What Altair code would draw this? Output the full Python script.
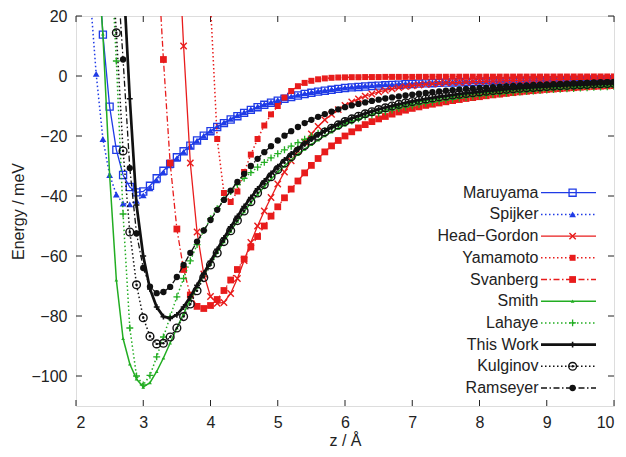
import altair as alt
import numpy as np
import pandas as pd

# ---------------- data ----------------
series_names = ["Maruyama", "Spijker", "Head\u2212Gordon", "Yamamoto", "Svanberg",
                "Smith", "Lahaye", "This Work", "Kulginov", "Ramseyer"]
z_first = [2.3, 2.2, 3.5, 4.0, 3.2, 2.3, 2.5, 2.7, 2.5, 2.6]
z_step = 0.1

maruyama = [50, 13.8, -10.2, -24.6, -33.0, -37.0, -38.8, -38.5, -36.6, -34.1,
            -31.6, -29.3, -27.1, -25.1, -23.2, -21.5, -19.9, -18.4, -17.0, -15.7,
            -14.5, -13.4, -12.3, -11.3, -10.4, -9.6, -8.9, -8.2, -7.6, -7.0,
            -6.5, -6.0, -5.6, -5.2, -4.9, -4.6, -4.3, -4.0, -3.8, -3.65,
            -3.5, -3.35, -3.2, -3.1, -3.0, -2.9, -2.75, -2.65, -2.55, -2.45,
            -2.4, -2.3, -2.2, -2.15, -2.1, -2.0, -1.95, -1.9, -1.85, -1.8,
            -1.75, -1.7, -1.65, -1.6, -1.55, -1.5, -1.5, -1.45, -1.4, -1.4,
            -1.35, -1.3, -1.3, -1.25, -1.2, -1.2, -1.15, -1.15]
spijker = [30, 0.7, -21.0, -33.0, -39.5, -42.5, -42.8, -41.6, -39.8, -37.4,
           -34.8, -32.2, -29.8, -27.5, -25.3, -23.4, -21.6, -19.9, -18.3, -16.8,
           -15.5, -14.3, -13.1, -12.1, -11.1, -10.2, -9.4, -8.7, -8.0, -7.4,
           -6.8, -6.3, -5.8, -5.4, -5.0, -4.7, -4.4, -4.1, -3.85, -3.6,
           -3.4, -3.25, -3.1, -2.95, -2.8, -2.7, -2.6, -2.5, -2.4, -2.3,
           -2.2, -2.15, -2.1, -2.0, -1.95, -1.9, -1.85, -1.8, -1.75, -1.7,
           -1.65, -1.6, -1.55, -1.5, -1.5, -1.45, -1.4, -1.4, -1.35, -1.3,
           -1.3, -1.25, -1.2, -1.2, -1.15, -1.15, -1.1, -1.1, -1.05]
head_gordon = [55, 10, -29, -52, -66, -73.5, -75.8, -75.5, -72.5, -67.5,
               -61.5, -55.5, -50, -45, -40.5, -36, -32, -28.3, -25, -22,
               -19.3, -16.8, -14.6, -12.8, -11.2, -9.8, -8.6, -7.6, -6.7, -6.0,
               -5.3, -4.8, -4.3, -3.9, -3.55, -3.25, -3.0, -2.8, -2.6, -2.45,
               -2.3, -2.2, -2.1, -2.0, -1.9, -1.8, -1.75, -1.7, -1.6, -1.55,
               -1.5, -1.45, -1.4, -1.35, -1.3, -1.28, -1.25, -1.2, -1.18, -1.15,
               -1.1, -1.08, -1.05, -1.02, -1.0, -0.98]
yamamoto = [24, -21, -39, -42, -38.5, -32, -26.2, -21, -16.5, -12.8,
            -10, -7.2, -5.0, -3.4, -2.3, -1.6, -1.1, -0.8, -0.6, -0.5,
            -0.45, -0.4, -0.4, -0.35, -0.35, -0.35, -0.3, -0.3, -0.3, -0.3,
            -0.3, -0.28, -0.28, -0.26, -0.26, -0.25, -0.25, -0.24, -0.24, -0.23,
            -0.23, -0.22, -0.22, -0.21, -0.21, -0.2, -0.2, -0.2, -0.19, -0.19,
            -0.19, -0.18, -0.18, -0.18, -0.17, -0.17, -0.17, -0.16, -0.16, -0.16, -0.15]
svanberg = [45, 5.5, -29, -51, -64.5, -73, -76.8, -77.5, -76.5, -74.5,
            -71.5, -68, -64.5, -61, -57, -53.5, -50, -46.7, -43.6, -40.6,
            -37.7, -35, -32.3, -29.8, -27.5, -25.3, -23.3, -21.5, -20.0, -18.6,
            -17.3, -16.2, -15.2, -14.3, -13.5, -12.7, -12.0, -11.4, -10.8, -10.3,
            -9.8, -9.4, -9.0, -8.6, -8.2, -7.85, -7.5, -7.2, -6.9, -6.6,
            -6.3, -6.05, -5.8, -5.55, -5.3, -5.1, -4.9, -4.7, -4.5, -4.35,
            -4.2, -4.05, -3.9, -3.75, -3.6, -3.5, -3.4, -3.3, -3.2]
smith = [45, 14, -33, -68, -87.5, -96, -101, -103.7, -102.2, -98.5,
         -94, -89, -84, -79.2, -74.6, -70.4, -66.4, -62.6, -58.8, -55.2,
         -51.7, -48.4, -45.2, -42.3, -39.5, -36.9, -34.4, -32.1, -30.0, -28.0,
         -26.1, -24.4, -22.8, -21.3, -19.9, -18.6, -17.4, -16.3, -15.3, -14.4,
         -13.5, -12.7, -12.0, -11.3, -10.7, -10.1, -9.6, -9.1, -8.6, -8.2,
         -7.8, -7.45, -7.1, -6.8, -6.5, -6.25, -6.0, -5.75, -5.5, -5.3,
         -5.1, -4.9, -4.7, -4.55, -4.4, -4.25, -4.1, -3.95, -3.8, -3.7,
         -3.6, -3.5, -3.4, -3.3, -3.2, -3.12, -3.05, -3.0]
lahaye = [50, 5, -46, -84, -100, -103, -99.8, -93.6, -87, -80.2,
          -73.6, -67.5, -61.6, -56.2, -51.5, -47.6, -44.2, -41.2, -38.5, -36.2,
          -34.1, -32.2, -30.4, -28.8, -27.3, -25.9, -24.6, -23.4, -22.2, -21.1,
          -20.1, -19.1, -18.2, -17.3, -16.5, -15.7, -15.0, -14.3, -13.6, -13.0,
          -12.4, -11.9, -11.35, -10.85, -10.4, -9.95, -9.5, -9.1, -8.75, -8.4,
          -8.05, -7.75, -7.45, -7.15, -6.9, -6.65, -6.4, -6.15, -5.95, -5.75,
          -5.55, -5.35, -5.2, -5.0, -4.85, -4.7, -4.55, -4.4, -4.3, -4.15,
          -4.05, -3.9, -3.8, -3.7, -3.6, -3.5]
this_work = [35, -7.6, -43, -60, -71, -77, -80.2, -80.8, -79.6, -77,
             -73.6, -69.8, -65.8, -61.8, -57.8, -54, -50.3, -46.8, -43.5, -40.5,
             -37.6, -35, -32.5, -30.2, -28, -26, -24.2, -22.5, -21, -19.6,
             -18.3, -17.1, -16, -15, -14.1, -13.3, -12.5, -11.8, -11.1, -10.5,
             -9.95, -9.4, -8.9, -8.45, -8.0, -7.6, -7.25, -6.9, -6.6, -6.3,
             -6.0, -5.75, -5.5, -5.25, -5.0, -4.8, -4.6, -4.4, -4.2, -4.05,
             -3.9, -3.75, -3.6, -3.45, -3.32, -3.2, -3.08, -2.97, -2.86, -2.76,
             -2.66, -2.57, -2.48, -2.4]
kulginov = [50, 14.4, -25, -52, -69.6, -80.6, -86.8, -89.3, -89.1, -87,
            -84, -80.2, -76, -71.6, -67.2, -63, -59, -55.2, -51.6, -48.2,
            -45, -41.9, -39, -36.2, -33.6, -31.2, -29, -26.9, -25, -23.2,
            -21.6, -20.1, -18.7, -17.4, -16.3, -15.2, -14.3, -13.4, -12.6, -11.9,
            -11.2, -10.6, -10.0, -9.45, -8.95, -8.5, -8.05, -7.65, -7.3, -6.95,
            -6.65, -6.35, -6.05, -5.8, -5.55, -5.3, -5.05, -4.85, -4.65, -4.45,
            -4.25, -4.1, -3.95, -3.8, -3.65, -3.5, -3.37, -3.25, -3.13, -3.02,
            -2.9, -2.8, -2.7, -2.6, -2.5, -2.42]
ramseyer = [40, 5.5, -30.7, -52.5, -64, -70.2, -72.4, -72, -70.3, -67,
            -63, -59, -55.2, -51.5, -48, -44.6, -41.3, -38.2, -35.3, -32.6,
            -30, -27.6, -25.4, -23.4, -21.5, -19.9, -18.4, -17.0, -15.7, -14.6,
            -13.6, -12.7, -11.9, -11.1, -10.4, -9.8, -9.3, -8.8, -8.3, -7.9,
            -7.5, -7.15, -6.8, -6.5, -6.2, -5.9, -5.65, -5.4, -5.15, -4.9,
            -4.7, -4.5, -4.3, -4.15, -4.0, -3.85, -3.7, -3.55, -3.4, -3.3,
            -3.2, -3.1, -3.0, -2.9, -2.8, -2.7, -2.62, -2.54, -2.46, -2.38,
            -2.3, -2.23, -2.16, -2.1, -2.04]

energies = [maruyama, spijker, head_gordon, yamamoto, svanberg,
            smith, lahaye, this_work, kulginov, ramseyer]

x_ticks = [2, 3, 4, 5, 6, 7, 8, 9, 10]
y_ticks = [20, 0, -20, -40, -60, -80, -100]

# ---------------- styling ----------------
FONT = "Liberation Sans"
TXT = "#222222"
FRAME = "#222222"
BLUE = "#1f3be6"
RED = "#e81c1c"
GREEN = "#22ad22"
BLACK = "#111111"
DOT = [1.5, 2.5]
DASHDOT = [6, 2.5, 1.5, 2.5]
PLUS = "M-1,0L1,0M0,-1L0,1"
CROSS = "M-1,-1L1,1M-1,1L1,-1"

styles = [
    dict(color=BLUE, dash=None, lw=1.3, shape="square", filled=False, size=50, mw=1.3),
    dict(color=BLUE, dash=DOT, lw=1.5, shape="triangle-up", filled=True, size=46, mw=1),
    dict(color=RED, dash=None, lw=1.3, shape=CROSS, filled=False, size=40, mw=1.4),
    dict(color=RED, dash=DOT, lw=1.5, shape="square", filled=True, size=36, mw=1),
    dict(color=RED, dash=DASHDOT, lw=1.3, shape="square", filled=True, size=46, mw=1),
    dict(color=GREEN, dash=None, lw=1.5, shape="triangle-up", filled=True, size=14, mw=1),
    dict(color=GREEN, dash=DOT, lw=1.5, shape=PLUS, filled=False, size=48, mw=1.3),
    dict(color=BLACK, dash=None, lw=2.7, shape=PLUS, filled=False, size=34, mw=1.6),
    dict(color=BLACK, dash=DOT, lw=1.5, shape="circle", filled=False, size=60, mw=1.4),
    dict(color=BLACK, dash=DASHDOT, lw=1.3, shape="circle", filled=True, size=40, mw=1),
]

W, H = 538, 390
xs = alt.Scale(domain=[2, 10], nice=False, zero=False)
ys = alt.Scale(domain=[-110, 20], nice=False, zero=False)

xaxis = alt.Axis(values=x_ticks, ticks=False, domain=False, grid=False, format="d",
                 labelFontSize=16, labelFont=FONT, labelColor=TXT, labelPadding=8,
                 title="z / \u00c5", titleFontSize=16, titleFont=FONT, titleColor=TXT,
                 titleFontWeight="normal", titlePadding=2)
yaxis = alt.Axis(values=y_ticks, ticks=False, domain=False, grid=False, format="d",
                 labelFontSize=16, labelFont=FONT, labelColor=TXT, labelPadding=9,
                 title="Energy / meV", titleFontSize=16, titleFont=FONT, titleColor=TXT,
                 titleFontWeight="normal", titlePadding=4)

layers = []

# inward ticks on all four sides
xt = pd.DataFrame({"t": x_ticks})
yt = pd.DataFrame({"t": y_ticks})
layers.append(alt.Chart(xt).mark_rule(color=FRAME, strokeWidth=1).encode(
    x=alt.X("t:Q", scale=xs, axis=xaxis), y=alt.value(H), y2=alt.value(H - 6)))
layers.append(alt.Chart(xt).mark_rule(color=FRAME, strokeWidth=1).encode(
    x=alt.X("t:Q", scale=xs, axis=xaxis), y=alt.value(0), y2=alt.value(6)))
layers.append(alt.Chart(yt).mark_rule(color=FRAME, strokeWidth=1).encode(
    y=alt.Y("t:Q", scale=ys, axis=yaxis), x=alt.value(0), x2=alt.value(6)))
layers.append(alt.Chart(yt).mark_rule(color=FRAME, strokeWidth=1).encode(
    y=alt.Y("t:Q", scale=ys, axis=yaxis), x=alt.value(W), x2=alt.value(W - 6)))


def line_kw(st):
    kw = dict(color=st["color"], strokeWidth=st["lw"])
    if st["dash"] is not None:
        kw["strokeDash"] = st["dash"]
    return kw


def point_kw(st):
    return dict(shape=st["shape"], filled=st["filled"], size=st["size"],
                color=st["color"], strokeWidth=st["mw"], opacity=1)


for i, name in enumerate(series_names):
    e = energies[i]
    z = np.round(z_first[i] + z_step * np.arange(len(e)), 2)
    df = pd.DataFrame({"z": z, "E": e})
    st = styles[i]
    enc = dict(x=alt.X("z:Q", scale=xs, axis=xaxis), y=alt.Y("E:Q", scale=ys, axis=yaxis))
    layers.append(alt.Chart(df).mark_line(clip=True, **line_kw(st)).encode(**enc))
    layers.append(alt.Chart(df).mark_point(clip=True, **point_kw(st)).encode(**enc))
    if name == "Kulginov":
        layers.append(alt.Chart(df).mark_point(clip=True, shape="circle", filled=True,
                                               size=6, color=BLACK, opacity=1).encode(**enc))

# legend (key) drawn inside the plot, lower right
for i, name in enumerate(series_names):
    st = styles[i]
    py = 176.7 + i * 21.7
    ld = pd.DataFrame({"name": [name]})
    layers.append(alt.Chart(ld).mark_text(align="right", baseline="middle", fontSize=16,
                                          font=FONT, color=TXT).encode(
        x=alt.value(462.5), y=alt.value(py), text="name:N"))
    layers.append(alt.Chart(ld).mark_rule(**line_kw(st)).encode(
        x=alt.value(465), x2=alt.value(520), y=alt.value(py)))
    layers.append(alt.Chart(ld).mark_point(**point_kw(st)).encode(
        x=alt.value(496.6), y=alt.value(py)))
    if name == "Kulginov":
        layers.append(alt.Chart(ld).mark_point(shape="circle", filled=True, size=6,
                                               color=BLACK, opacity=1).encode(
            x=alt.value(496.6), y=alt.value(py)))

chart = alt.layer(*layers).properties(
    width=W, height=H,
    autosize=alt.AutoSizeParams(type="none"),
    padding={"left": 68, "top": 8, "right": 4, "bottom": 43},
).configure_view(stroke=FRAME, strokeWidth=1.1).configure(background="white")

chart.save("out.html", embed_options={"renderer": "svg", "actions": False})
